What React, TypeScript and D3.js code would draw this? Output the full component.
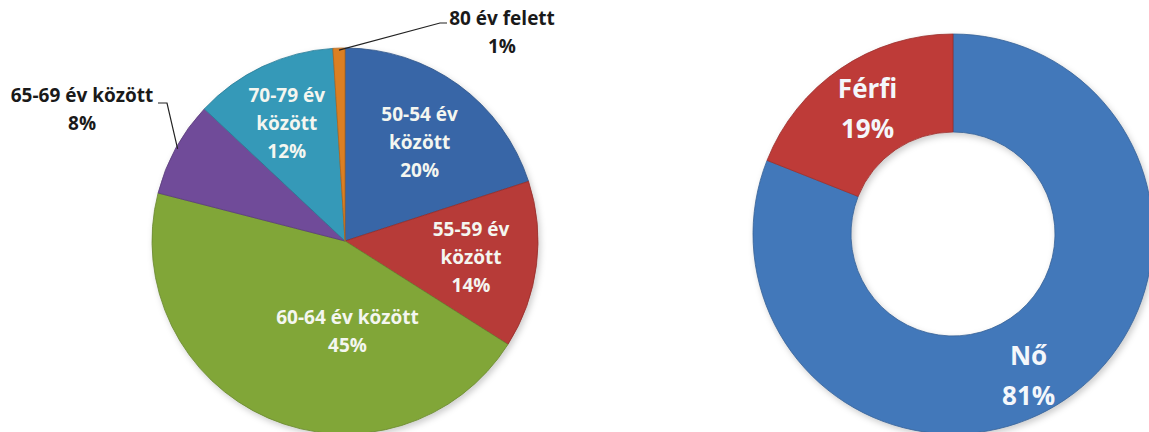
import { useEffect, useRef } from 'react'
import * as d3 from 'd3'

// age groups (left pie)
const ageGroups = ['50-54 év között', '55-59 év között', '60-64 év között', '65-69 év között', '70-79 év között', '80 év felett']
const ageLabelLines = [['50-54 év', 'között'], ['55-59 év', 'között'], ['60-64 év között'], ['65-69 év között'], ['70-79 év', 'között'], ['80 év felett']]
const agePercent = [20, 14, 45, 8, 12, 1]
const ageColors = ['#3e72ba', '#cc403d', '#90b93f', '#7d54aa', '#3aaacd', '#f48d26']

// gender (right donut)
const genders = ['Nő', 'Férfi']
const genderPercent = [81, 19]
const genderColors = ['#4a86cf', '#d4423e']

const App = () => {
  const svgRef = useRef(null)

  useEffect(() => {
    const width = 1149
    const height = 432
    const svg = d3.select(svgRef.current)
    svg.selectAll('*').remove()
    svg.attr('width', width).attr('height', height)

    const defs = svg.append('defs')
    const shadow = defs.append('filter').attr('id', 'shadow')
      .attr('x', '-10%').attr('y', '-10%').attr('width', '120%').attr('height', '120%')
    shadow.append('feDropShadow')
      .attr('dx', 2).attr('dy', 3).attr('stdDeviation', 3)
      .attr('flood-color', '#000').attr('flood-opacity', 0.2)

    const makeGradient = (id, color, cx, cy, r) => {
      const c = d3.color(color)
      const g = defs.append('radialGradient').attr('id', id)
        .attr('gradientUnits', 'userSpaceOnUse')
        .attr('cx', cx).attr('cy', cy).attr('r', r)
        .attr('fx', cx - r * 0.1).attr('fy', cy - r * 0.15)
      g.append('stop').attr('offset', '0%').attr('stop-color', c.brighter(0.2).formatHex())
      g.append('stop').attr('offset', '75%').attr('stop-color', color)
      g.append('stop').attr('offset', '93%').attr('stop-color', color)
      g.append('stop').attr('offset', '100%').attr('stop-color', c.darker(0.3).formatHex())
    }

    const font = "'Open Sans', sans-serif"

    // ---------- left pie ----------
    const pieCx = 345
    const pieCy = 241
    const pieR = 193

    const pie = d3.pie().sort(null).value(d => d)
    const ageArcs = pie(agePercent)
    const arc = d3.arc().innerRadius(0).outerRadius(pieR)

    ageColors.forEach((c, i) => makeGradient(`age${i}`, c, pieCx, pieCy, pieR))

    const gPie = svg.append('g').attr('transform', `translate(${pieCx},${pieCy})`)

    gPie.append('g').attr('filter', 'url(#shadow)')
      .selectAll('path')
      .data(ageArcs)
      .enter()
      .append('path')
      .attr('d', arc)
      .attr('fill', (d, i) => `url(#age${i})`)
      .attr('stroke', (d, i) => d3.color(ageColors[i]).darker(0.9).formatHex())
      .attr('stroke-width', 0.8)
      .attr('stroke-linejoin', 'round')

    // inside labels: [angle shift (deg), radius]
    const insideLayout = [[1, 124], [0, 127], [-25, 90], null, [-1, 132], null]
    ageArcs.forEach((d, i) => {
      const lay = insideLayout[i]
      if (!lay) return
      const a = (d.startAngle + d.endAngle) / 2 + (lay[0] * Math.PI) / 180
      const x = Math.sin(a) * lay[1]
      const y = -Math.cos(a) * lay[1]
      const lines = [...ageLabelLines[i], `${agePercent[i]}%`]
      const lh = 28
      const t = gPie.append('text')
        .attr('text-anchor', 'middle')
        .attr('font-family', font)
        .attr('font-weight', 700)
        .attr('font-size', 19)
        .attr('fill', '#f4f6f0')
      lines.forEach((ln, k) => {
        t.append('tspan')
          .attr('x', x)
          .attr('y', y + (k - (lines.length - 1) / 2) * lh + 7)
          .text(ln)
      })
    })

    // outside labels with leader lines: [text x, baseline y, elbow x, elbow y, end x]
    const outsideLayout = { 3: [82 - pieCx, 102 - pieCy, 167 - pieCx, 103 - pieCy, 158 - pieCx], 5: [502 - pieCx, 25 - pieCy, 440 - pieCx, 23 - pieCy, 447 - pieCx] }
    Object.entries(outsideLayout).forEach(([key, lay]) => {
      const i = +key
      const d = ageArcs[i]
      const a = (d.startAngle + d.endAngle) / 2
      const rx = Math.sin(a) * (pieR - 2)
      const ry = -Math.cos(a) * (pieR - 2)
      gPie.append('path')
        .attr('d', d3.line()([[rx, ry], [lay[2], lay[3]], [lay[4], lay[3]]]))
        .attr('fill', 'none')
        .attr('stroke', '#222')
        .attr('stroke-width', 1.2)
      const t = gPie.append('text')
        .attr('text-anchor', 'middle')
        .attr('font-family', font)
        .attr('font-weight', 700)
        .attr('font-size', 19)
        .attr('fill', '#1a1a1a')
      t.append('tspan').attr('x', lay[0]).attr('y', lay[1]).text(ageLabelLines[i][0])
      t.append('tspan').attr('x', lay[0]).attr('y', lay[1] + 28).text(`${agePercent[i]}%`)
    })

    // ---------- right donut ----------
    const donCx = 953
    const donCy = 234
    const outerR = 200
    const innerR = 102

    const genderArcs = pie(genderPercent)
    const donArc = d3.arc().innerRadius(innerR).outerRadius(outerR)
    genderColors.forEach((c, i) => makeGradient(`gen${i}`, c, donCx, donCy, outerR))

    const gDon = svg.append('g').attr('transform', `translate(${donCx},${donCy})`)
    gDon.append('g').attr('filter', 'url(#shadow)')
      .selectAll('path')
      .data(genderArcs)
      .enter()
      .append('path')
      .attr('d', donArc)
      .attr('fill', (d, i) => `url(#gen${i})`)
      .attr('stroke', (d, i) => d3.color(genderColors[i]).darker(0.9).formatHex())
      .attr('stroke-width', 0.8)

    // label positions as [radius, angle shift (deg)]
    const donLabelLayout = [[160, 6], [152, 0]]
    genderArcs.forEach((d, i) => {
      const [lr, shift] = donLabelLayout[i]
      const a = (d.startAngle + d.endAngle) / 2 + (shift * Math.PI) / 180
      const x = Math.sin(a) * lr
      const y = -Math.cos(a) * lr
      const t = gDon.append('text')
        .attr('text-anchor', 'middle')
        .attr('font-family', font)
        .attr('font-weight', 700)
        .attr('font-size', 26)
        .attr('fill', '#f4f7fb')
      t.append('tspan').attr('x', x).attr('y', y - 10).text(genders[i])
      t.append('tspan').attr('x', x).attr('y', y + 30).text(`${genderPercent[i]}%`)
    })
  }, [])

  return (
    <div style={{ position: 'absolute', left: 0, top: 0 }}>
      <svg ref={svgRef}></svg>
    </div>
  )
}

export default App
